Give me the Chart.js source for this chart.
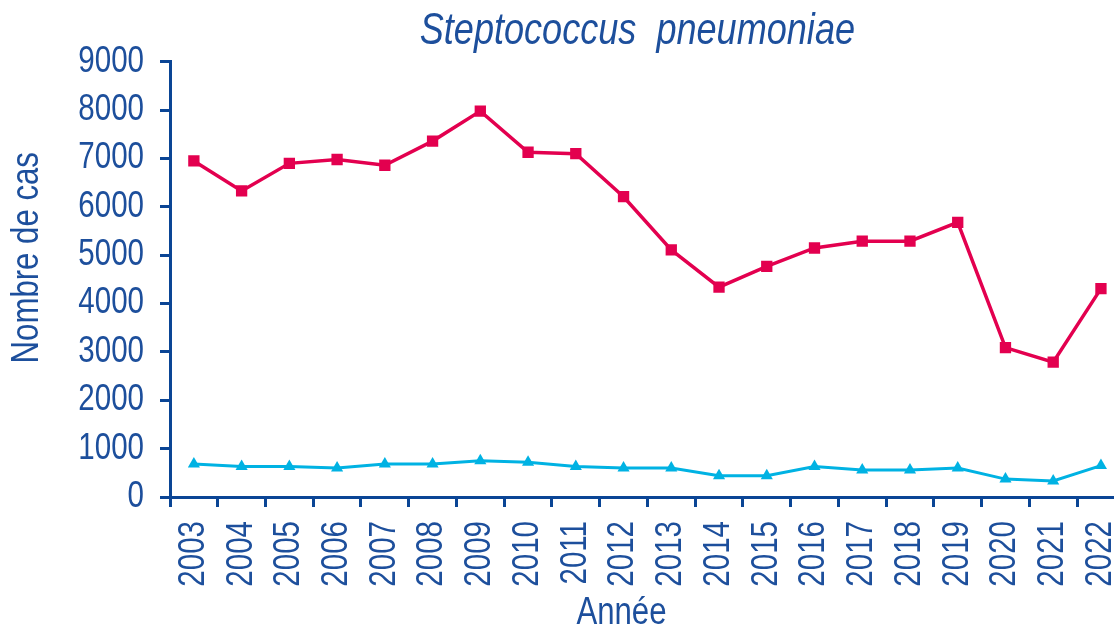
<!DOCTYPE html>
<html>
<head>
<meta charset="utf-8">
<script src="https://cdn.jsdelivr.net/npm/chart.js@4.4.1/dist/chart.umd.min.js"></script>
<style>
  html, body { margin: 0; padding: 0; background: #fff; overflow: hidden; }
  #wrap { width: 1159px; height: 633px; }
</style>
</head>
<body>
<div id="wrap"><canvas id="pneumoChart" width="1159" height="633"></canvas></div>
<script>
// --- Données ---
const annees = ['2003', '2004', '2005', '2006', '2007', '2008', '2009', '2010', '2011', '2012',
                '2013', '2014', '2015', '2016', '2017', '2018', '2019', '2020', '2021', '2022'];
const casTotal = [6950, 6330, 6900, 6980, 6860, 7360, 7980, 7130, 7100, 6210,
                  5110, 4340, 4770, 5150, 5290, 5290, 5680, 3090, 2790, 4310];
const casInvasifs = [680, 630, 630, 600, 680, 680, 750, 720, 630, 600,
                     600, 440, 440, 630, 560, 560, 600, 370, 330, 650];
const yTicks = [0, 1000, 2000, 3000, 4000, 5000, 6000, 7000, 8000, 9000];

const axisColor = '#0a4595';
const textColor = '#1d4f9c';
const fontFamily = "'Liberation Sans', Arial, sans-serif";

// Pas de police "Narrow" installée : on condense le texte horizontalement
const condense = 0.82;
const origFillText = CanvasRenderingContext2D.prototype.fillText;
const origMeasureText = CanvasRenderingContext2D.prototype.measureText;
CanvasRenderingContext2D.prototype.fillText = function(text, x, y, maxWidth) {
    this.save();
    this.translate(x, y);
    this.scale(condense, 1);
    origFillText.call(this, text, 0, 0);
    this.restore();
};
CanvasRenderingContext2D.prototype.measureText = function(text) {
    const m = origMeasureText.call(this, text);
    return {
        width: m.width * condense,
        actualBoundingBoxLeft: m.actualBoundingBoxLeft * condense,
        actualBoundingBoxRight: m.actualBoundingBoxRight * condense,
        actualBoundingBoxAscent: m.actualBoundingBoxAscent,
        actualBoundingBoxDescent: m.actualBoundingBoxDescent
    };
};

// espaces ajoutés pour décaler légèrement les titres, comme sur l'original
const pad = n => '\u00a0'.repeat(n);

const ctx = document.getElementById('pneumoChart').getContext('2d');
new Chart(ctx, {
    type: 'line',
    data: {
        labels: annees,
        datasets: [{
            label: 'Total',
            data: casTotal,
            borderColor: '#e3004f',
            backgroundColor: '#e3004f',
            borderWidth: 3.5,
            tension: 0,
            pointStyle: 'rect',
            pointRadius: 8,
            pointBorderWidth: 0
        }, {
            label: 'Invasifs',
            data: casInvasifs,
            borderColor: '#00b2e3',
            backgroundColor: '#00b2e3',
            borderWidth: 3,
            tension: 0,
            pointStyle: 'triangle',
            pointRadius: 7,
            pointBorderWidth: 0
        }]
    },
    options: {
        responsive: false,
        animation: false,
        layout: { padding: { left: 0, right: 6, top: 0, bottom: 0 } },
        plugins: {
            legend: { display: false },
            tooltip: { enabled: false },
            title: {
                display: true,
                fullSize: false,
                text: 'Steptococcus  pneumoniae' + pad(2),
                color: textColor,
                font: { family: fontFamily, size: 44, style: 'italic', weight: 'normal', lineHeight: 1.2 },
                padding: { top: 5, bottom: 4 }
            }
        },
        scales: {
            x: {
                offset: true,
                grid: {
                    offset: true,
                    drawOnChartArea: false,
                    drawTicks: true,
                    tickLength: 10,
                    tickWidth: 3,
                    tickColor: axisColor
                },
                border: { display: true, color: axisColor, width: 3 },
                ticks: {
                    color: textColor,
                    font: { family: fontFamily, size: 36 },
                    minRotation: 90,
                    maxRotation: 90,
                    autoSkip: false,
                    padding: 14
                },
                title: {
                    display: true,
                    text: 'Année' + pad(6),
                    color: textColor,
                    font: { family: fontFamily, size: 38, lineHeight: 1 },
                    padding: { top: 0, bottom: 0 }
                },
                afterFit: function(scale) { scale.height = 136; }
            },
            y: {
                min: 0,
                max: 9000,
                afterBuildTicks: function(scale) {
                    scale.ticks = yTicks.map(v => ({ value: v }));
                },
                grid: {
                    drawOnChartArea: false,
                    drawTicks: true,
                    tickLength: 10,
                    tickWidth: 3,
                    tickColor: axisColor
                },
                border: { display: true, color: axisColor, width: 3 },
                ticks: {
                    color: textColor,
                    font: { family: fontFamily, size: 36 },
                    padding: 16,
                    callback: value => String(value)
                },
                title: {
                    display: true,
                    text: pad(5) + 'Nombre de cas',
                    color: textColor,
                    font: { family: fontFamily, size: 38, lineHeight: 1.2 },
                    padding: { top: 5, bottom: 0 }
                },
                afterFit: function(scale) { scale.width = 170; }
            }
        }
    }
});
</script>
</body>
</html>
